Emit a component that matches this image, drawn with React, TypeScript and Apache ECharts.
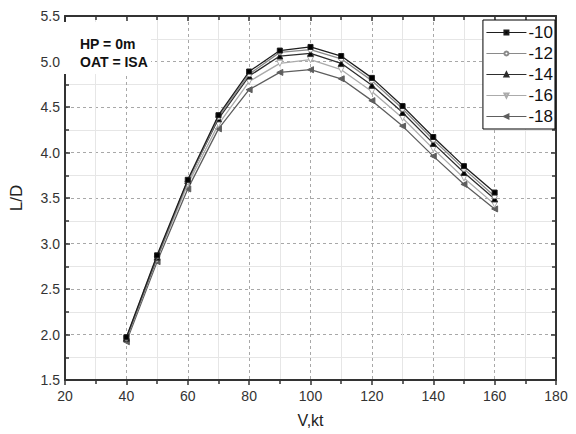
import React, { useEffect, useRef } from "react";
import * as echarts from "echarts";

const speeds = [40, 50, 60, 70, 80, 90, 100, 110, 120, 130, 140, 150, 160];

const ld10 = [1.97, 2.87, 3.7, 4.41, 4.89, 5.12, 5.16, 5.06, 4.82, 4.51, 4.17, 3.85, 3.56];
const ld12 = [1.96, 2.86, 3.68, 4.39, 4.86, 5.1, 5.13, 5.03, 4.79, 4.48, 4.14, 3.82, 3.52];
const ld14 = [1.96, 2.85, 3.69, 4.37, 4.84, 5.06, 5.09, 4.98, 4.74, 4.44, 4.1, 3.78, 3.49];
const ld16 = [1.95, 2.83, 3.65, 4.31, 4.78, 4.98, 5.02, 4.91, 4.67, 4.38, 4.04, 3.72, 3.43];
const ld18 = [1.92, 2.8, 3.6, 4.26, 4.69, 4.88, 4.91, 4.81, 4.57, 4.29, 3.96, 3.65, 3.38];

const seriesNames = ["-10", "-12", "-14", "-16", "-18"];
const seriesValues = [ld10, ld12, ld14, ld16, ld18];

// line colour, marker fill, marker shape, rotation
const looks = [
  { line: "#1e1e1e", fill: "#000", symbol: "rect", rotate: 0, size: 5 },
  { line: "#8a8a8a", fill: "#fff", symbol: "circle", rotate: 0, size: 5 },
  { line: "#2e2e2e", fill: "#000", symbol: "triangle", rotate: 0, size: 6 },
  { line: "#ababab", fill: "#fff", symbol: "triangle", rotate: 180, size: 6 },
  { line: "#5e5e5e", fill: "#5e5e5e", symbol: "triangle", rotate: 90, size: 6 },
];

const App: React.FC = () => {
  const chartRef = useRef<HTMLDivElement>(null);

  useEffect(() => {
    if (!chartRef.current) return;
    const chart = echarts.init(chartRef.current, null, { renderer: "svg" });

    const axisLine = { show: true, lineStyle: { color: "#333", width: 2 } };
    const majorGrid = { show: true, lineStyle: { color: "#a8a8a8", type: [3, 3] as any, width: 1 } };
    const minorGrid = { show: true, lineStyle: { color: "#e6e6e6", width: 1 } };
    const labelStyle = { color: "#333", fontSize: 14, fontFamily: "Liberation Sans, Arial" };
    const tickStyle = { color: "#333", width: 1.5 };

    chart.setOption({
      animation: false,
      backgroundColor: "#fff",
      grid: { left: 62, right: 20, top: 16, bottom: 54, containLabel: false },
      legend: {
        right: 21,
        top: 20,
        orient: "vertical",
        data: seriesNames,
        backgroundColor: "#fff",
        borderColor: "#000",
        borderWidth: 1,
        borderRadius: 0,
        padding: [4, 2, 4, 3],
        itemWidth: 40,
        itemHeight: 5,
        itemGap: 4,
        lineStyle: { width: 1 },
        textStyle: { fontSize: 17, color: "#111", fontFamily: "Liberation Sans, Arial", padding: [0, 0, 0, -3] },
      },
      graphic: [
        {
          type: "rect",
          left: 63,
          top: 22,
          shape: { width: 88, height: 52 },
          style: { fill: "#fff" },
          z: 5,
        },
        {
          type: "text",
          left: 80,
          top: 35,
          z: 6,
          style: {
            text: "HP = 0m\nOAT = ISA",
            font: "bold 14px Liberation Sans, Arial",
            fill: "#111",
            lineHeight: 18,
          },
        },
      ],
      xAxis: [
        {
          type: "value",
          min: 20,
          max: 180,
          interval: 20,
          name: "V,kt",
          nameLocation: "middle",
          nameGap: 32,
          nameTextStyle: { fontSize: 16, color: "#222", fontFamily: "Liberation Sans, Arial" },
          axisLine,
          axisTick: { show: true, inside: false, length: 5, lineStyle: tickStyle },
          minorTick: { show: true, splitNumber: 2, length: 4, lineStyle: tickStyle },
          splitLine: majorGrid,
          minorSplitLine: minorGrid,
          axisLabel: { ...labelStyle, margin: 9 },
        },
        {
          type: "value",
          position: "top",
          min: 20,
          max: 180,
          interval: 20,
          axisLine,
          axisTick: { show: true, inside: true, length: 5, lineStyle: tickStyle },
          minorTick: { show: true, splitNumber: 2, length: 4, lineStyle: tickStyle },
          splitLine: { show: false },
          axisLabel: { show: false },
        },
      ],
      yAxis: [
        {
          type: "value",
          min: 1.5,
          max: 5.5,
          interval: 0.5,
          name: "L/D",
          nameLocation: "middle",
          nameGap: 40,
          nameTextStyle: { fontSize: 17, color: "#222", fontFamily: "Liberation Sans, Arial" },
          axisLine,
          axisTick: { show: true, inside: true, length: 5, lineStyle: tickStyle },
          minorTick: { show: true, splitNumber: 2, length: 4, lineStyle: tickStyle },
          splitLine: majorGrid,
          minorSplitLine: minorGrid,
          axisLabel: { ...labelStyle, margin: 5, formatter: (v: number) => v.toFixed(1) },
        },
        {
          type: "value",
          position: "right",
          min: 1.5,
          max: 5.5,
          interval: 0.5,
          axisLine,
          axisTick: { show: true, inside: true, length: 5, lineStyle: tickStyle },
          minorTick: { show: true, splitNumber: 2, length: 4, lineStyle: tickStyle },
          splitLine: { show: false },
          axisLabel: { show: false },
        },
      ],
      series: seriesNames.map((name, i) => ({
        name,
        type: "line",
        xAxisIndex: 0,
        yAxisIndex: 0,
        data: speeds.map((s, j) => [s, seriesValues[i][j]]),
        symbol: looks[i].symbol,
        symbolRotate: looks[i].rotate,
        symbolSize: looks[i].size,
        showAllSymbol: true,
        lineStyle: { color: looks[i].line, width: 1.3 },
        itemStyle: { color: looks[i].fill, borderColor: looks[i].line, borderWidth: 1 },
        z: 10 - i,
      })),
    });

    return () => {
      chart.dispose();
    };
  }, []);

  return (
    <div
      ref={chartRef}
      style={{ position: "fixed", left: 0, top: 0, width: "576px", height: "434px" }}
    />
  );
};

export default App;
